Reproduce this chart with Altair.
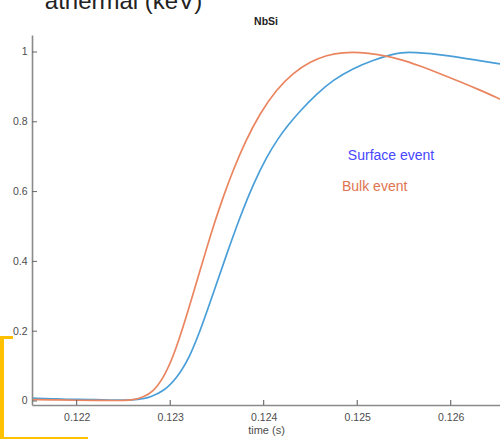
import altair as alt
import pandas as pd

# Normalised pulse shapes (time in s, amplitude normalised to peak)
surface_t = [0.121533, 0.1218, 0.1220, 0.1222, 0.1224, 0.1226, 0.122712, 0.122784,
             0.122926, 0.123070, 0.123212, 0.123337, 0.123461, 0.123586,
             0.123747, 0.123889, 0.124032, 0.124156, 0.124246, 0.124388,
             0.124567, 0.124741, 0.124955, 0.125169, 0.125383, 0.125458, 0.125597,
             0.125960, 0.126313, 0.126527]
surface_v = [0.008, 0.006, 0.004, 0.004, 0.002, 0.003, 0.006, 0.011,
             0.027, 0.065, 0.127, 0.213, 0.309, 0.407,
             0.528, 0.622, 0.700, 0.753, 0.786, 0.831,
             0.880, 0.920, 0.953, 0.977, 0.994, 0.998, 1.000,
             0.991, 0.975, 0.966]

bulk_t = [0.121533, 0.1218, 0.1220, 0.1222, 0.1224, 0.1226, 0.122712, 0.122819,
          0.122926, 0.123033, 0.123140, 0.123247, 0.123319, 0.123390, 0.123479,
          0.123568, 0.123675, 0.123800, 0.123960, 0.124139, 0.124313,
          0.124495, 0.124674, 0.124848, 0.125030, 0.125209, 0.125458, 0.125672,
          0.125886, 0.126099, 0.126313, 0.126527]
bulk_v = [0.004, 0.003, 0.002, 0.002, 0.001, 0.002, 0.011, 0.027,
          0.065, 0.127, 0.213, 0.309, 0.374, 0.438, 0.515,
          0.586, 0.663, 0.742, 0.825, 0.893, 0.940,
          0.972, 0.991, 0.999, 0.999, 0.994, 0.980, 0.960,
          0.938, 0.915, 0.891, 0.865]

series_names = ["Surface event", "Bulk event"]
line_colors = ["#4a9fd9", "#ea8560"]
label_colors = ["#4646ff", "#e0744f"]
label_t = [0.1249, 0.124837]
label_v = [0.702, 0.613]

x_ticks = [0.122, 0.123, 0.124, 0.125, 0.126]
y_ticks = [0, 0.2, 0.4, 0.6, 0.8, 1]

x_domain = [0.121522, 0.126527]
y_domain = [-0.0115, 1.0487]

W, H = 468, 370
FONT = "Liberation Sans"

df = pd.concat([
    pd.DataFrame({"t": surface_t, "v": surface_v, "series": series_names[0]}),
    pd.DataFrame({"t": bulk_t, "v": bulk_v, "series": series_names[1]}),
])

x_enc = alt.X("t:Q", title="time (s)",
              scale=alt.Scale(domain=x_domain, nice=False, zero=False),
              axis=alt.Axis(values=x_ticks, format="~g", ticks=False, grid=False,
                            labelPadding=7, labelBaseline="top", titlePadding=2))
y_enc = alt.Y("v:Q", title=None,
              scale=alt.Scale(domain=y_domain, nice=False, zero=False),
              axis=alt.Axis(values=y_ticks, format="~g", ticks=False, grid=False,
                            labelPadding=5))

lines = alt.Chart(df).mark_line(strokeWidth=1.7, interpolate="basis", clip=True).encode(
    x=x_enc, y=y_enc,
    color=alt.Color("series:N", scale=alt.Scale(domain=series_names, range=line_colors),
                    legend=None),
)

# inward-pointing ticks
xt = alt.Chart(pd.DataFrame({"t": x_ticks})).mark_rule(color="#555", strokeWidth=1).encode(
    x=x_enc, y=alt.value(H), y2=alt.value(H - 5))
yt = alt.Chart(pd.DataFrame({"v": y_ticks})).mark_rule(color="#666", strokeWidth=1).encode(
    y=y_enc, x=alt.value(0), x2=alt.value(5))

# in-plot series labels, each in its own colour
label_layers = [
    alt.Chart(pd.DataFrame({"t": [label_t[i]], "v": [label_v[i]], "name": [series_names[i]]}))
    .mark_text(align="left", baseline="middle", fontSize=14, font=FONT, color=label_colors[i])
    .encode(x=x_enc, y=y_enc, text="name:N")
    for i in range(len(series_names))
]

one = alt.Data(values=[{}])
title_mark = alt.Chart(one).mark_text(
    text="NbSi", fontSize=10.5, fontWeight="bold", font=FONT, color="#222222",
    align="center", baseline="alphabetic").encode(x=alt.value(W / 2), y=alt.value(-10))

heading = alt.Chart(one).mark_text(
    text="athermal (keV)", fontSize=24, font=FONT, color="#222222",
    align="center", baseline="alphabetic").encode(x=alt.value(91.5), y=alt.value(-26.5))

gold = "#ffc000"
frame = (
    alt.Chart(one).mark_rect(color=gold).encode(
        x=alt.value(-32), x2=alt.value(-28), y=alt.value(301), y2=alt.value(404))
    + alt.Chart(one).mark_rect(color=gold).encode(
        x=alt.value(-32), x2=alt.value(-19), y=alt.value(301), y2=alt.value(304))
    + alt.Chart(one).mark_rect(color=gold).encode(
        x=alt.value(-32), x2=alt.value(56), y=alt.value(402), y2=alt.value(404))
)

chart = alt.layer(lines, xt, yt, *label_layers, title_mark, heading, frame).properties(
    width=W, height=H,
    autosize=alt.AutoSizeParams(type="none"),
    padding={"left": 32, "top": 35, "right": 0, "bottom": 34},
    background="white",
).configure_view(stroke=None).configure_axis(
    domainColor="#8a8a8a", domainWidth=1.6,
    labelColor="#4d4d4d", labelFont=FONT, labelFontSize=10.5,
    titleColor="#4d4d4d", titleFont=FONT, titleFontSize=11, titleFontWeight="normal",
)

chart.save("out.html", embed_options={"renderer": "svg", "actions": False})
